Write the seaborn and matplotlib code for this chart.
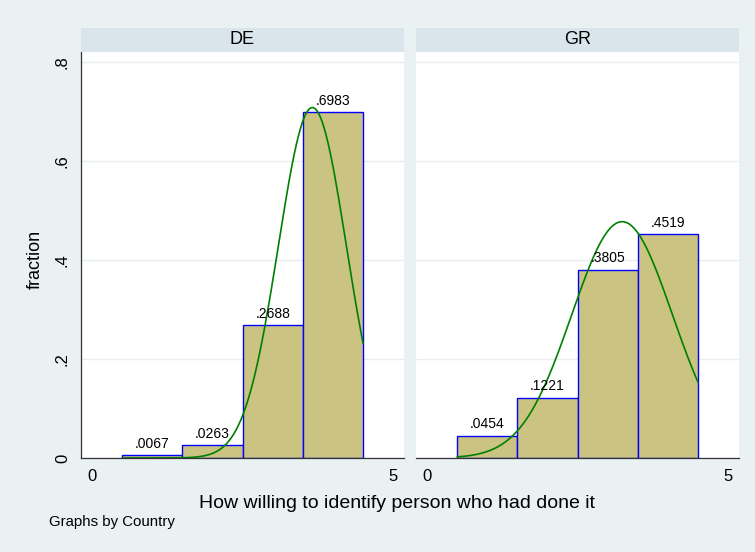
import numpy as np
import pandas as pd
import matplotlib
matplotlib.use("Agg")
import matplotlib.pyplot as plt
import seaborn as sns
from matplotlib.patches import Rectangle

# histogram fractions per country (response categories 1..4)
categories = [1, 2, 3, 4]
frac_de = [0.0067, 0.0263, 0.2688, 0.6983]
frac_gr = [0.0454, 0.1221, 0.3805, 0.4519]
labels_de = [".0067", ".0263", ".2688", ".6983"]
labels_gr = [".0454", ".1221", ".3805", ".4519"]
countries = ["DE", "GR"]

df = pd.DataFrame({
    "value": categories * 2,
    "fraction": frac_de + frac_gr,
    "label": labels_de + labels_gr,
    "country": ["DE"] * 4 + ["GR"] * 4,
})

sns.set_style("white")
plt.rcParams["font.family"] = ["Liberation Sans", "DejaVu Sans"]
plt.rcParams["text.color"] = "black"
plt.rcParams["xtick.color"] = "black"
plt.rcParams["ytick.color"] = "black"

W, H = 755, 552
fig = plt.figure(figsize=(W / 100, H / 100), dpi=100)
fig.patch.set_facecolor("#eaf1f3")

bar_col = "#cbc381"
edge_col = "#0000ff"
grid_col = "#e6eef0"
strip_col = "#d9e5eb"

panel_left = [81, 416]
pw = 323
top_px, bot_px = 52, 458

for i, c in enumerate(countries):
    ax = fig.add_axes([panel_left[i] / W, (H - bot_px) / H, pw / W, (bot_px - top_px) / H])
    sub = df[df.country == c]
    sns.histplot(data=sub, x="value", weights="fraction", discrete=True, shrink=1,
                 color=bar_col, edgecolor=edge_col, linewidth=1.0, alpha=1, ax=ax)

    # normal density fitted to the histogram (as in Stata's `normal` option)
    x = sub.value.to_numpy(float)
    w = sub.fraction.to_numpy()
    mu = np.sum(w * x) / w.sum()
    sd = np.sqrt(np.sum(w * (x - mu) ** 2) / w.sum())
    xs = np.linspace(0.5, 4.5, 200)
    ys = np.exp(-0.5 * ((xs - mu) / sd) ** 2) / (sd * np.sqrt(2 * np.pi))
    sns.lineplot(x=xs, y=ys, color="#008000", linewidth=1.2, ax=ax)

    for xv, fv, lab in zip(sub.value, sub.fraction, sub.label):
        ax.annotate(lab, (xv, fv), xytext=(0, 3), textcoords="offset points",
                    ha="center", va="bottom", fontsize=10)

    ax.set_xlim(-0.183, 5.18)
    ax.set_ylim(0, 0.82)
    ax.set_facecolor("white")
    ax.set_xticks([0, 5])
    ax.set_xticklabels(["0", "5"])
    ax.set_yticks([0, 0.2, 0.4, 0.6, 0.8])
    ax.set_yticklabels(["0", ".2", ".4", ".6", ".8"])
    ax.set_axisbelow(True)
    ax.yaxis.grid(True, color=grid_col, linewidth=1.0)
    ax.set_xlabel("")
    ax.set_ylabel("")
    for s in ["top", "right"]:
        ax.spines[s].set_visible(False)
    ax.spines["bottom"].set_color("#333333")
    ax.spines["bottom"].set_linewidth(0.9)
    ax.tick_params(axis="x", direction="out", length=5, width=0.9, color="#333333",
                   labelsize=12, pad=3)
    if i == 0:
        ax.spines["left"].set_color("#333333")
        ax.spines["left"].set_linewidth(0.9)
        ax.tick_params(axis="y", direction="out", length=5, width=0.9, color="#333333",
                       labelsize=12, pad=3)
        for t in ax.get_yticklabels():
            t.set_rotation(90)
            t.set_va("center")
    else:
        ax.spines["left"].set_visible(False)
        ax.tick_params(axis="y", left=False, labelleft=False)

    # strip header
    fig.patches.append(Rectangle((panel_left[i] / W, (H - top_px) / H), pw / W, 24 / H,
                                 transform=fig.transFigure, facecolor=strip_col,
                                 edgecolor="none"))
    fig.text((panel_left[i] + pw / 2) / W, (H - 40) / H, c, ha="center", va="center",
             fontsize=13)

fig.text(35 / W, 1 - 259 / H, "fraction", rotation=90, ha="center", va="center", fontsize=13)
fig.text(397 / W, 1 - 503 / H, "How willing to identify person who had done it",
         ha="center", va="center", fontsize=14)
fig.text(49 / W, 1 - 522 / H, "Graphs by Country", ha="left", va="center", fontsize=10.8)

fig.savefig("out.png", dpi=100, facecolor=fig.get_facecolor())
